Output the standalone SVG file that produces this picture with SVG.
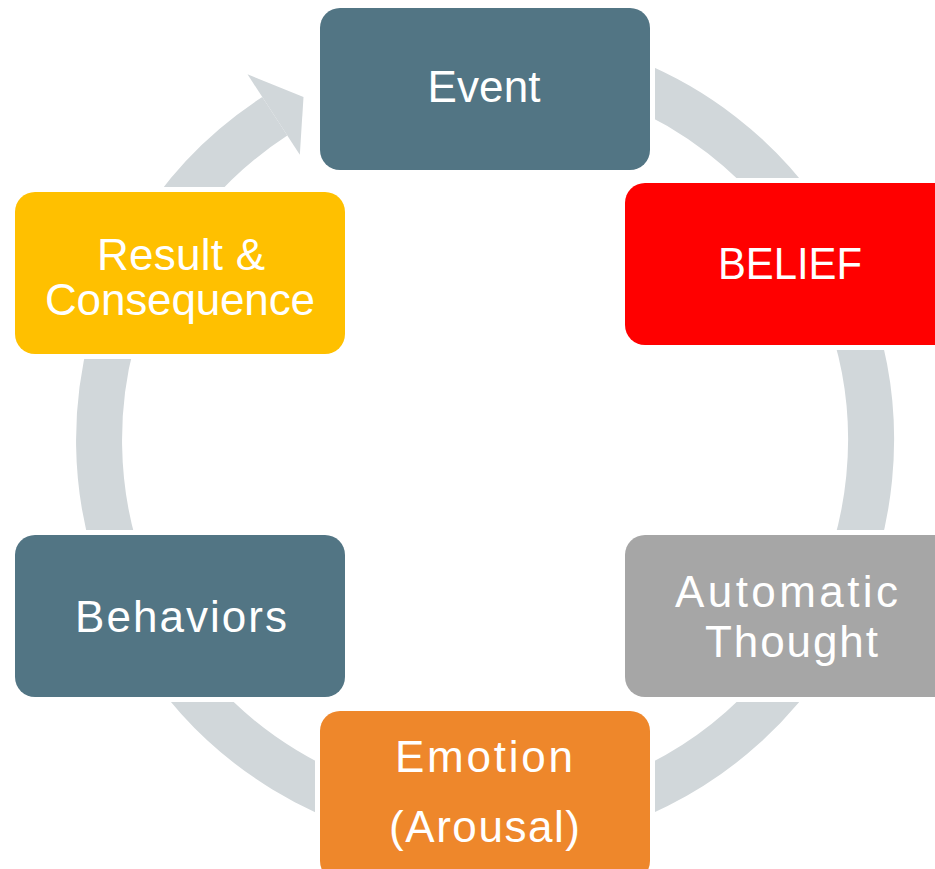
<svg xmlns="http://www.w3.org/2000/svg" width="935" height="869" viewBox="0 0 935 869">
  <style>
    .box { stroke: #ffffff; stroke-width: 10; paint-order: stroke; }
    .slate { fill: #527584; }
    .red { fill: #ff0000; }
    .grey { fill: #a6a6a6; }
    .orange { fill: #ee872b; }
    .yellow { fill: #ffc000; }
    .label { font-family: "Liberation Sans", Arial, sans-serif; font-size: 44px; fill: #ffffff; text-anchor: middle; }
    .ring { fill: none; stroke: #d1d7da; stroke-width: 46; }
    .head { fill: #d1d7da; }
  </style>

  <!-- circular cycle arrow, running clockwise and ending at Event -->
  <g id="connectors">
    <path class="ring" d="M353.0,77.3 A386,386 0 1 1 274.8,116.3"/>
    <polygon class="head" points="247.5,74.3 303.5,97 299.8,154.8"/>
  </g>

  <g id="event">
    <rect class="box slate" x="320" y="8" width="330" height="162" rx="20"/>
    <text class="label" x="484" y="102" textLength="113" lengthAdjust="spacing">Event</text>
  </g>

  <g id="belief">
    <rect class="box red" x="625" y="183" width="330" height="162" rx="20"/>
    <text class="label" x="790" y="279" textLength="144" lengthAdjust="spacingAndGlyphs">BELIEF</text>
  </g>

  <g id="automatic-thought">
    <rect class="box grey" x="625" y="535" width="330" height="162" rx="20"/>
    <text class="label" x="786.5" y="607" textLength="223" lengthAdjust="spacing">Automatic</text>
    <text class="label" x="791.5" y="657" textLength="173" lengthAdjust="spacing">Thought</text>
  </g>

  <g id="emotion">
    <rect class="box orange" x="320" y="711" width="330" height="170" rx="20"/>
    <text class="label" x="484" y="772" textLength="178" lengthAdjust="spacing">Emotion</text>
    <text class="label" x="484.5" y="842" textLength="191" lengthAdjust="spacing">(Arousal)</text>
  </g>

  <g id="behaviors">
    <rect class="box slate" x="15" y="535" width="330" height="162" rx="20"/>
    <text class="label" x="181" y="632" textLength="212" lengthAdjust="spacing">Behaviors</text>
  </g>

  <g id="result-consequence">
    <rect class="box yellow" x="15" y="192" width="330" height="162" rx="20"/>
    <text class="label" x="181" y="270" textLength="168" lengthAdjust="spacing">Result &amp;</text>
    <text class="label" x="180" y="315" textLength="270" lengthAdjust="spacing">Consequence</text>
  </g>
</svg>
